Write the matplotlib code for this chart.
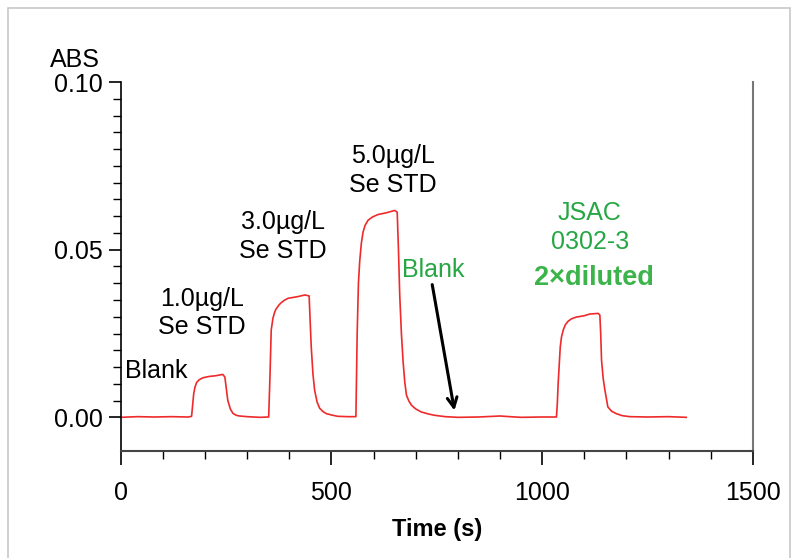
import matplotlib.pyplot as plt
from matplotlib.patches import Rectangle
from matplotlib.ticker import FixedLocator

plt.rcParams['font.family'] = ['Liberation Sans', 'DejaVu Sans']

# signal trace
time_s = [0, 40, 80, 120, 160, 168, 170, 173, 176, 180, 186, 195, 210, 225, 242, 247, 251, 254, 260, 266, 274, 282,
          300, 330, 351,
          354, 357, 361, 365, 368, 376, 381, 388, 397, 420, 437, 447, 449, 452, 456, 460, 466, 472, 480, 488, 500,
          515, 540, 558,
          561, 564, 567, 571, 575, 580, 587, 598, 611, 630, 650, 656, 659, 662, 666, 670, 674, 678, 684, 690, 700, 713,
          730, 745, 770, 800, 850, 883, 900, 923, 950, 1000, 1034,
          1036, 1038, 1043, 1046, 1050, 1055, 1062, 1070, 1081, 1100, 1113, 1133, 1137, 1139, 1141, 1145, 1149, 1156,
          1165, 1176, 1190, 1208, 1250, 1300, 1342]
absorbance = [0.0, 0.0002, 0.0001, 0.0002, 0.0001, 0.0003, 0.0030, 0.0070, 0.0090, 0.0104, 0.0112, 0.0118, 0.0122,
              0.0124, 0.0128, 0.0120, 0.0080, 0.0050, 0.0025, 0.0012, 0.0006, 0.0004,
              0.0002, 0.0000, 0.0001,
              0.0120, 0.0260, 0.0295, 0.0313, 0.0322, 0.0336, 0.0342, 0.0349, 0.0355, 0.0360, 0.0365, 0.0362, 0.0300,
              0.0210, 0.0130, 0.0081, 0.0045, 0.0027, 0.0017, 0.0011, 0.0007,
              0.0003, 0.0002, 0.0002,
              0.0250, 0.0400, 0.0465, 0.0520, 0.0553, 0.0573, 0.0588, 0.0598, 0.0605, 0.0610, 0.0617, 0.0612, 0.0500,
              0.0365, 0.0250, 0.0166, 0.0105, 0.0066, 0.0048, 0.0036, 0.0025, 0.0016,
              0.0010, 0.0006, 0.0002, 0.0, 0.0001, 0.0003, 0.0004, 0.0002, 0.0, 0.0001, 0.0001,
              0.0040, 0.0100, 0.0210, 0.0240, 0.0260, 0.0276, 0.0287, 0.0294, 0.0299, 0.0303, 0.0308, 0.0310, 0.0305,
              0.0250, 0.0170, 0.0115, 0.0081, 0.0031,
              0.0018, 0.0011, 0.0005, 0.0002, 0.0001, 0.0002, 0.0]

x_major = [0, 500, 1000, 1500]
x_minor = [100, 200, 300, 400, 600, 700, 800, 900, 1100, 1200, 1300, 1400]
y_major = [0.0, 0.05, 0.10]
y_minor = [0.005, 0.01, 0.015, 0.02, 0.025, 0.03, 0.035, 0.04, 0.045,
           0.055, 0.06, 0.065, 0.07, 0.075, 0.08, 0.085, 0.09, 0.095]

black_labels = [('Blank', 10, 0.0138, 'left'),
                ('1.0µg/L\nSe STD', 192, 0.0311, 'center'),
                ('3.0µg/L\nSe STD', 384, 0.0539, 'center'),
                ('5.0µg/L\nSe STD', 645, 0.0737, 'center')]
green = '#27a744'

fig = plt.figure(figsize=(8, 5.58), dpi=100)
ax = fig.add_axes([0.151, 0.192, 0.79, 0.661])

ax.plot(time_s, absorbance, color='#ee2a2a', lw=1.2)

ax.set_xlim(0, 1500)
ax.set_ylim(-0.01, 0.10)
ax.xaxis.set_major_locator(FixedLocator(x_major))
ax.xaxis.set_minor_locator(FixedLocator(x_minor))
ax.yaxis.set_major_locator(FixedLocator(y_major))
ax.yaxis.set_minor_locator(FixedLocator(y_minor))
ax.set_yticklabels(['0.00', '0.05', '0.10'])
ax.tick_params(axis='x', which='major', length=10, width=1.2, pad=12, labelsize=18, direction='out')
ax.tick_params(axis='x', which='minor', length=6, width=1.0, direction='out')
ax.tick_params(axis='y', which='major', length=9, width=1.2, pad=4, labelsize=18, direction='out')
ax.tick_params(axis='y', which='minor', length=6, width=1.0, direction='out')

ax.spines['top'].set_visible(False)
ax.spines['right'].set_color('#777777')
ax.spines['right'].set_linewidth(1.5)
ax.spines['bottom'].set_color('#444444')
ax.spines['bottom'].set_linewidth(1.5)
ax.spines['left'].set_linewidth(1.2)

ax.set_xlabel('Time (s)', fontsize=17, fontweight='bold', labelpad=9)
ax.text(-0.073, 1.06, 'ABS', transform=ax.transAxes, fontsize=18, ha='center', va='center')

for txt, tx, ty, ha in black_labels:
    ax.text(tx, ty, txt, fontsize=18, ha=ha, va='center', linespacing=1.25)

ax.text(667, 0.044, 'Blank', fontsize=18, color=green, ha='left', va='center')
ax.text(1113, 0.0566, 'JSAC\n0302-3', fontsize=18, color=green, ha='center', va='center', linespacing=1.25)
ax.text(1122, 0.0416, '2\u00d7diluted', fontsize=19.5, color='#3cb44b', fontweight='bold', ha='center', va='center')

ax.annotate('', xy=(793, 0.0012), xytext=(738, 0.0404),
            arrowprops=dict(arrowstyle='->,head_length=0.7,head_width=0.35', lw=2.2, color='black'))

fig.patches.append(Rectangle((8 / 800, -0.01), 782 / 800, 1 - 8 / 558 + 0.01, transform=fig.transFigure,
                             fill=False, edgecolor='#c8c8c8', lw=1.2))

plt.savefig('out.png', dpi=100)
plt.close()
